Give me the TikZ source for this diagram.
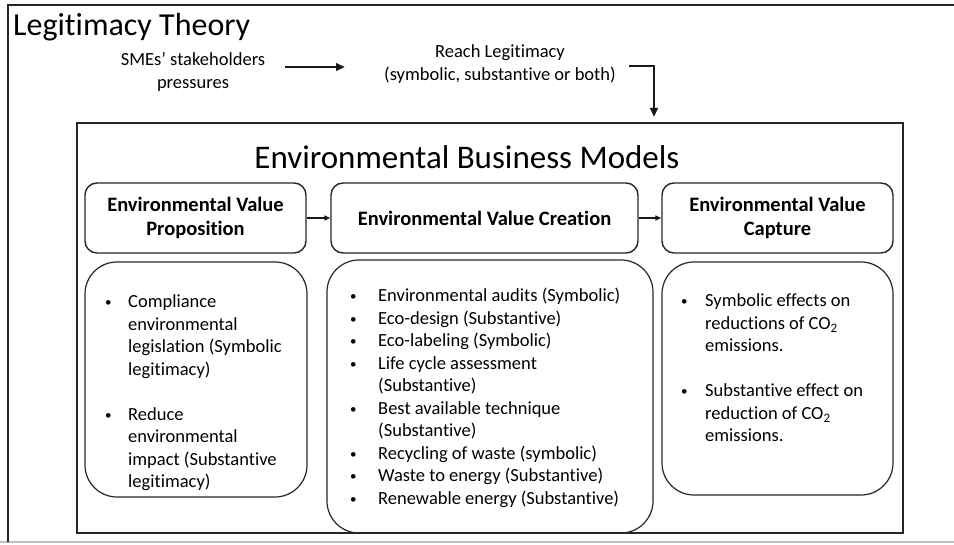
\documentclass[tikz,border=0pt]{standalone}
\usepackage{fontspec}
\setmainfont{Carlito}[Ligatures=CommonOff]
\usepackage{array}
\usetikzlibrary{arrows.meta}
\newcommand{\bodysize}{\fontsize{18.5}{22.5}\selectfont}
\newcommand{\dotmark}{\raisebox{1.2pt}{\fontsize{13}{13}\selectfont\textbullet}}
\newcommand{\bullist}[2]{\bodysize\begin{tabular}[t]{@{}p{#1}@{}l@{}}#2\end{tabular}}
\begin{document}
\begin{tikzpicture}[x=1pt,y=-1pt,
  frameline/.style={line width=2.4pt, draw=black!85},
  headbox/.style={draw=black!85, line width=1.4pt, rounded corners=12pt,
    minimum height=70pt, inner sep=0pt, align=center,
    font=\fontsize{20.5}{24.5}\selectfont\bfseries},
  bodybox/.style={draw=black!85, line width=1.2pt, rounded corners=32pt,
    inner sep=0pt},
  plain/.style={inner sep=0pt, align=center, font=\bodysize},
  listtext/.style={inner sep=0pt, anchor=north west},
  bigarrow/.style={line width=2.2pt, draw=black!90,
    -{Triangle[length=9pt,width=7.5pt]}},
  smallarrow/.style={line width=1.3pt, draw=black!90,
    -{Triangle[length=6pt,width=5pt]}}
]
\useasboundingbox (0,0) rectangle (954,545);

% outer frame and page edge
\draw[line width=2pt, draw=black!25] (0,542) -- (954,542);
\draw[frameline] (8,542) -- (8,5) -- (954,5);

% theory layer
\node[inner sep=0pt, anchor=base west, font=\fontsize{32}{38}\selectfont]
  (theory) at (13,36) {Legitimacy Theory};
\node[plain] (sme) at (193,72) {SMEs’ stakeholders\\pressures};
\node[plain] (reach) at (500,64) {Reach Legitimacy\\(symbolic, substantive or both)};

\coordinate (smeend) at (285,67);
\coordinate (reachin) at (345,67);
\coordinate (reachout) at (629,66);
\coordinate (modelsin) at (654,117);
\draw[bigarrow] (smeend) -- (reachin);
\draw[bigarrow] (reachout) -| (modelsin);

% business model frame
\node[draw=black!85, line width=1.8pt, minimum width=826pt, minimum height=410pt,
  inner sep=0pt] (models) at (490,328) {};
\node[inner sep=0pt, font=\fontsize{33}{39}\selectfont] (modeltitle) at (467,157)
  {Environmental Business Models};

% column headers
\node[headbox, minimum width=221pt] (prop) at (195.5,218)
  {Environmental Value\\Proposition};
\node[headbox, minimum width=307pt] (creat) at (484.5,218)
  {Environmental Value Creation};
\node[headbox, minimum width=231pt] (capt) at (777.5,218)
  {Environmental Value\\Capture};
\draw[smallarrow] (prop) -- (creat);
\draw[smallarrow] (creat) -- (capt);

% column contents
\node[bodybox, minimum width=222pt, minimum height=235pt] (propbody) at (196,379.5) {};
\node[bodybox, minimum width=326pt, minimum height=273pt] (creatbody) at (490,396.5) {};
\node[bodybox, minimum width=231pt, minimum height=233pt] (captbody) at (777.5,378.5) {};

\node[listtext] (proplist) at (105,292) {\bullist{23pt}{%
  \dotmark & Compliance\\
   & environmental\\
   & legislation (Symbolic\\
   & legitimacy)\\
   & \\
  \dotmark & Reduce\\
   & environmental\\
   & impact (Substantive\\
   & legitimacy)}};

\node[listtext] (creatlist) at (350,286) {\bullist{28pt}{%
  \dotmark & Environmental audits (Symbolic)\\
  \dotmark & Eco-design (Substantive)\\
  \dotmark & Eco-labeling (Symbolic)\\
  \dotmark & Life cycle assessment\\
   & (Substantive)\\
  \dotmark & Best available technique\\
   & (Substantive)\\
  \dotmark & Recycling of waste (symbolic)\\
  \dotmark & Waste to energy (Substantive)\\
  \dotmark & Renewable energy (Substantive)}};

\node[listtext] (captlist) at (681,291) {\bullist{24pt}{%
  \dotmark & Symbolic effects on\\
   & reductions of CO\textsubscript{2}\\
   & emissions.\\
   & \\
  \dotmark & Substantive effect on\\
   & reduction of CO\textsubscript{2}\\
   & emissions.}};
\end{tikzpicture}
\end{document}
